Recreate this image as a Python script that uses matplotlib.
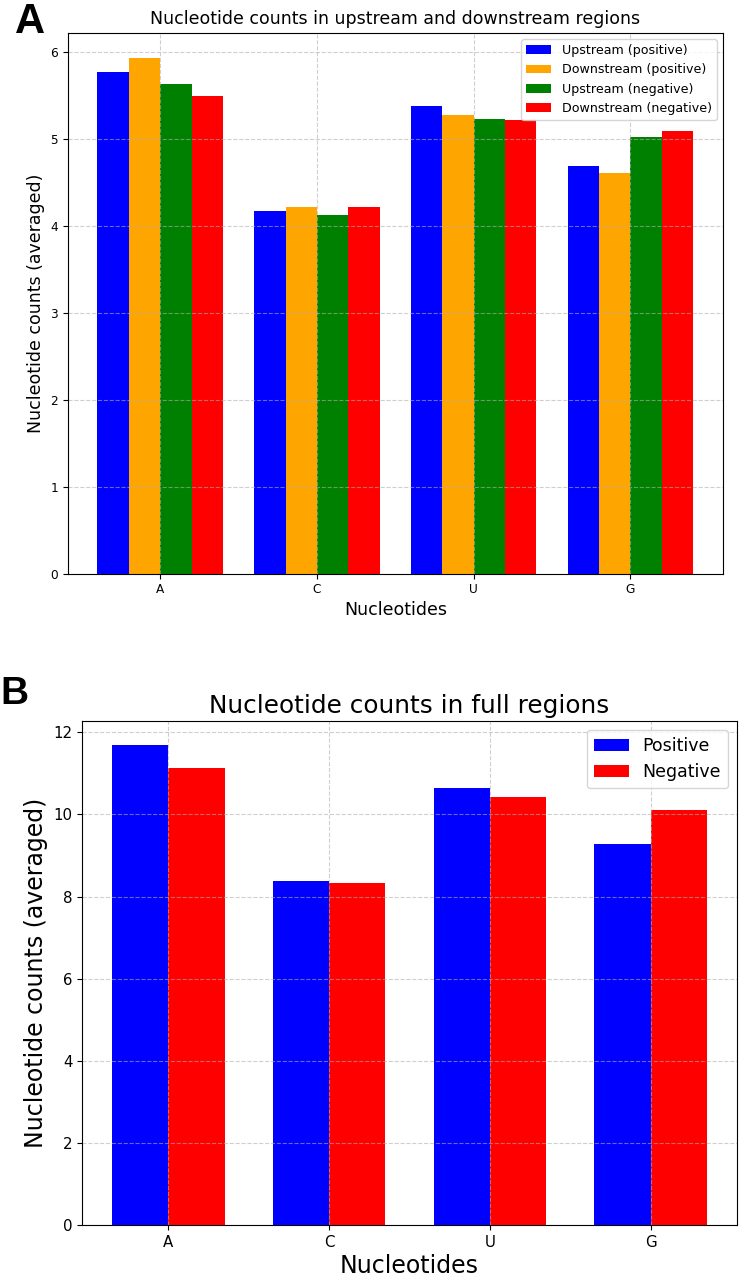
# import necessary modules
import numpy as np
import matplotlib
matplotlib.use("Agg")
import matplotlib.pyplot as plt

# nucleotide labels on the x axis
nucleotides = ["A", "C", "U", "G"]

# panel A values (averaged counts in upstream / downstream regions)
upstream_pos = [5.77, 4.17, 5.37, 4.69]
downstream_pos = [5.92, 4.21, 5.27, 4.61]
upstream_neg = [5.63, 4.12, 5.22, 5.02]
downstream_neg = [5.49, 4.21, 5.21, 5.09]

# panel B values (averaged counts in full regions)
full_pos = [11.69, 8.37, 10.64, 9.28]
full_neg = [11.12, 8.33, 10.43, 10.11]

fig = plt.figure(figsize=(7.4, 12.83), dpi=100)

# ---- panel A ----
ax1 = fig.add_axes([0.0915, 0.5528, 0.8855, 0.4217])
x = np.arange(len(nucleotides))
width = 0.2
ax1.bar(x - 1.5 * width, upstream_pos, width, color="blue", label="Upstream (positive)")
ax1.bar(x - 0.5 * width, downstream_pos, width, color="orange", label="Downstream (positive)")
ax1.bar(x + 0.5 * width, upstream_neg, width, color="green", label="Upstream (negative)")
ax1.bar(x + 1.5 * width, downstream_neg, width, color="red", label="Downstream (negative)")
ax1.set_xticks(x)
ax1.set_xticklabels(nucleotides)
ax1.tick_params(labelsize=8.7)
ax1.set_title("Nucleotide counts in upstream and downstream regions", fontsize=12.5)
ax1.set_xlabel("Nucleotides", fontsize=12.5, labelpad=3)
ax1.set_ylabel("Nucleotide counts (averaged)", fontsize=12.5)
ax1.legend(loc="upper right", fontsize=9.1)
ax1.grid(True, linestyle="--", alpha=0.6)

# ---- panel B ----
ax2 = fig.add_axes([0.1112, 0.0452, 0.8843, 0.3928])
width = 0.35
ax2.bar(x - width / 2, full_pos, width, color="blue", label="Positive")
ax2.bar(x + width / 2, full_neg, width, color="red", label="Negative")
ax2.set_xticks(x)
ax2.set_xticklabels(nucleotides)
ax2.tick_params(labelsize=10.8)
ax2.set_title("Nucleotide counts in full regions", fontsize=17.8)
ax2.set_xlabel("Nucleotides", fontsize=17, labelpad=3)
ax2.set_ylabel("Nucleotide counts (averaged)", fontsize=17)
ax2.legend(loc="upper right", fontsize=12.5)
ax2.grid(True, linestyle="--", alpha=0.6)

# panel letters
fig.text(15 / 740, 1 - 2 / 1283, "A", fontsize=30, fontweight="bold",
         family="Liberation Sans", va="top", ha="left")
fig.text(0.0, 1 - 676 / 1283, "B", fontsize=28, fontweight="bold",
         family="Liberation Sans", va="top", ha="left")

fig.savefig("out.png", dpi=100)
